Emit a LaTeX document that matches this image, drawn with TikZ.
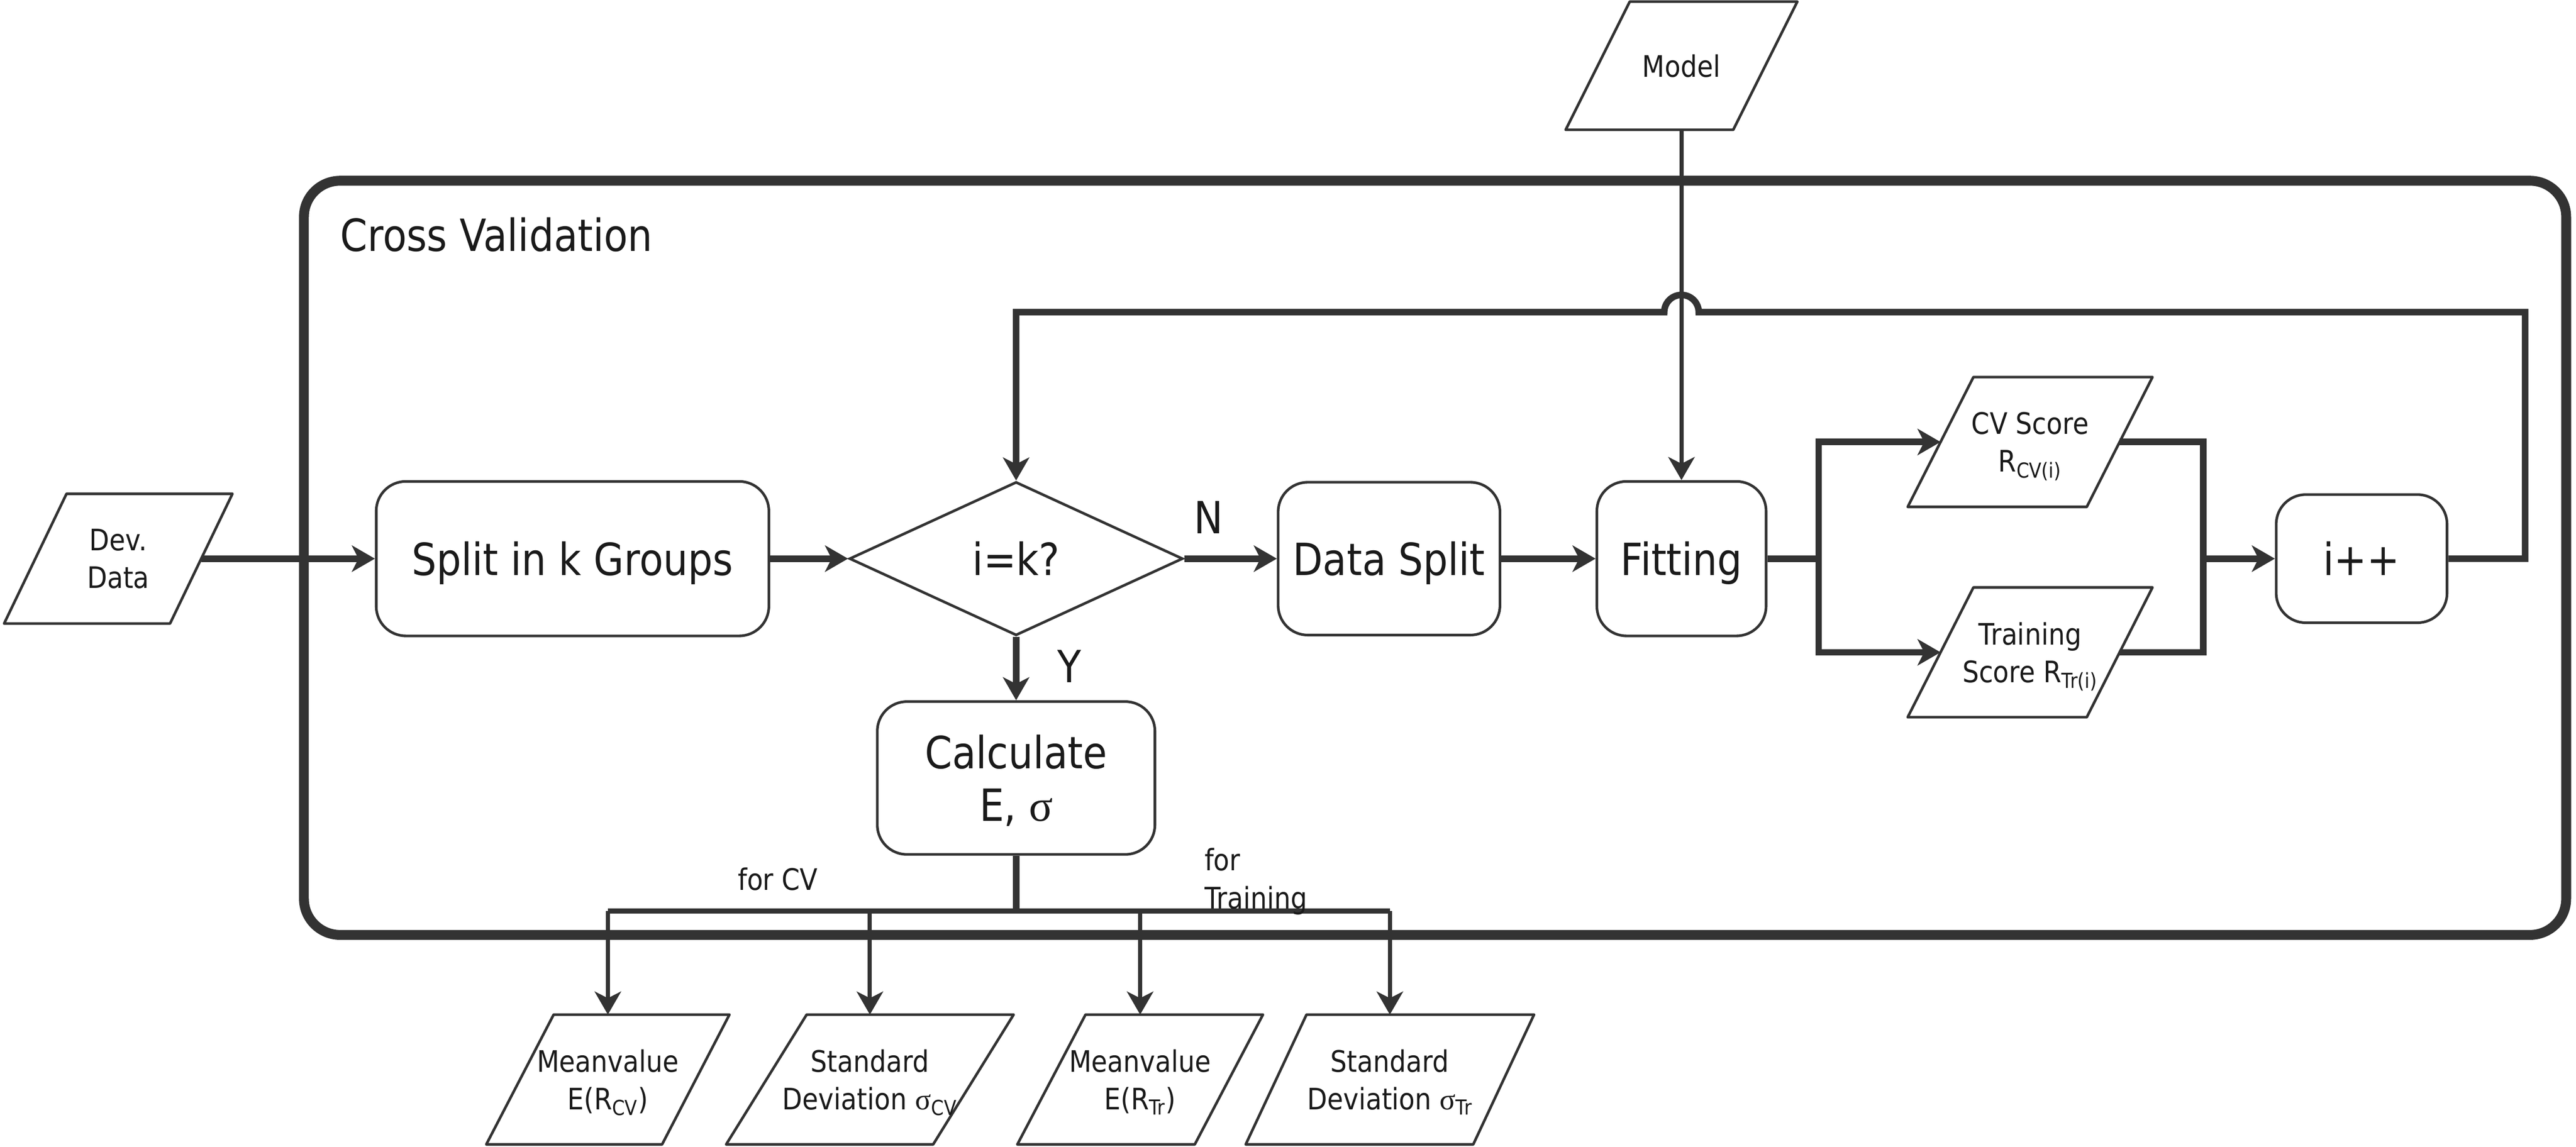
\documentclass[tikz,border=0pt]{standalone}
\usepackage{fontspec}
\setmainfont{DejaVu Sans}[FakeStretch=0.88]
\newfontfamily\symf{Liberation Serif}
\usetikzlibrary{arrows.meta,shapes.geometric,calc}
\definecolor{ln}{HTML}{333333}
\definecolor{tx}{HTML}{1A1A1A}
\newcommand\iobox[7]{%
  \draw[pline] ({#2-#4/2+#6/2},{#3-#5/2}) -- ({#2+#4/2+#6/2},{#3-#5/2})
     -- ({#2+#4/2-#6/2},{#3+#5/2}) -- ({#2-#4/2-#6/2},{#3+#5/2}) -- cycle;
  \node[io, minimum width=#4pt, minimum height=#5pt] (#1) at (#2,#3) {#7};
}
\begin{document}
\begin{tikzpicture}[x=1pt,y=-1pt,
  big/.style={font=\fontsize{27}{32}\selectfont},
  small/.style={font=\fontsize{18}{23}\selectfont},
  rbox/.style={draw=ln, line width=1.6pt, rounded corners=18pt, fill=white, align=center, big, text=tx, inner sep=0pt, text depth=0pt},
  io/.style={align=center, small, text=tx, inner sep=0pt, outer sep=0pt, text depth=0pt},
  pline/.style={draw=ln, line width=1.6pt, fill=white, line join=round},
  thickc/.style={draw=ln, line width=4pt},
  thinc/.style={draw=ln, line width=2.5pt},
  tip/.style={-{Stealth[length=14pt,width=16pt,inset=4pt]}},
  lbl/.style={text=tx, inner sep=0pt, text depth=0pt},
]
\useasboundingbox (0,0) rectangle (1568,698);
% frame
\node[draw=ln, line width=6pt, rounded corners=22pt, minimum width=1377pt, minimum height=459pt, inner sep=0pt] (frame) at (873.5,339.5) {};
\node[big, lbl, anchor=base west] (title) at (207,153) {Cross Validation};

% io boxes
\iobox{dev}{72}{340}{101}{79}{38}{Dev.\\Data}
\iobox{model}{1023.5}{40}{102}{78}{39}{Model}
\iobox{cv}{1235.7}{269}{109}{79}{40}{CV Score\\R\textsubscript{CV(i)}}
\iobox{tr}{1235.7}{397}{109}{79}{40}{Training\\Score R\textsubscript{Tr(i)}}
\iobox{m1}{370}{657}{107}{79}{41}{Meanvalue\\E(R\textsubscript{CV})}
\iobox{m2}{529.5}{657}{126}{79}{49}{Standard\\Deviation {\symf σ}\textsubscript{CV}}
\iobox{m3}{694}{657}{108}{79}{41.5}{Meanvalue\\E(R\textsubscript{Tr})}
\iobox{m4}{846}{657}{138.5}{79}{37}{Standard\\Deviation {\symf σ}\textsubscript{Tr}}

% process boxes
\node[rbox, minimum width=239pt, minimum height=94pt] (split) at (348.5,340) {Split in k Groups};
\node[draw=ln, line width=1.6pt, diamond, minimum width=203pt, minimum height=93.5pt, inner sep=0pt, fill=white, big, text=tx, text depth=0pt] (dec) at (618.5,340) {i=k?};
\node[rbox, minimum width=135pt, minimum height=93pt] (dsplit) at (845.5,340) {Data Split};
\node[rbox, minimum width=103pt, minimum height=94pt] (fit) at (1023.5,340) {Fitting};
\node[rbox, minimum width=104pt, minimum height=78pt] (ipp) at (1437.5,340) {i++};
\node[rbox, minimum width=169pt, minimum height=93pt] (calc) at (618.5,473.5) {Calculate\\E, {\symf σ}};

% main flow
\draw[thickc,tip] (dev.east) -- (split.west);
\draw[thickc,tip] (split.east) -- (dec.west);
\draw[thickc,tip] (dec.east) -- (dsplit.west);
\draw[thickc,tip] (dsplit.east) -- (fit.west);
\draw[thinc,tip] (model.south) -- (fit.north);
\draw[thickc,tip] (dec.south) -- (calc.north);
\node[big, lbl] (lN) at (735.6,315) {N};
\node[big, lbl] (lY) at (651,405.6) {Y};

% branch to scores
\coordinate (br) at (1107,340);
\draw[thickc] (fit.east) -- (br);
\draw[thickc,tip] (br) |- (cv.west);
\draw[thickc,tip] (br) |- (tr.west);
\coordinate (mg) at (1341,340);
\draw[thickc] (cv.east) -| (mg);
\draw[thickc] (tr.east) -| (mg);
\draw[thickc,tip] (mg) -- (ipp.west);

% loop back
\coordinate (lpA) at (1537,340);
\coordinate (lpB) at (1537,190);
\coordinate (hopR) at (1034,190);
\coordinate (lpC) at (618.5,190);
\draw[thickc,tip] (ipp.east) -- (lpA) -- (lpB) -- (hopR) arc[start angle=0,end angle=180,radius=10.5pt] -- (lpC) -- (dec.north);

% results bus
\coordinate (bus) at (618.5,554.5);
\draw[thickc] (calc.south) -- (bus);
\draw[ln, line width=3.2pt] (m1.north |- bus) -- (m4.north |- bus);
\foreach \m in {m1,m2,m3,m4} \draw[thinc,tip] (\m.north |- bus) -- (\m.north);
\node[small, lbl] (lcv) at (473.5,535) {for CV};
\node[small, lbl, align=left, anchor=north west] (ltr) at (733,516) {for\\Training};
\end{tikzpicture}
\end{document}
